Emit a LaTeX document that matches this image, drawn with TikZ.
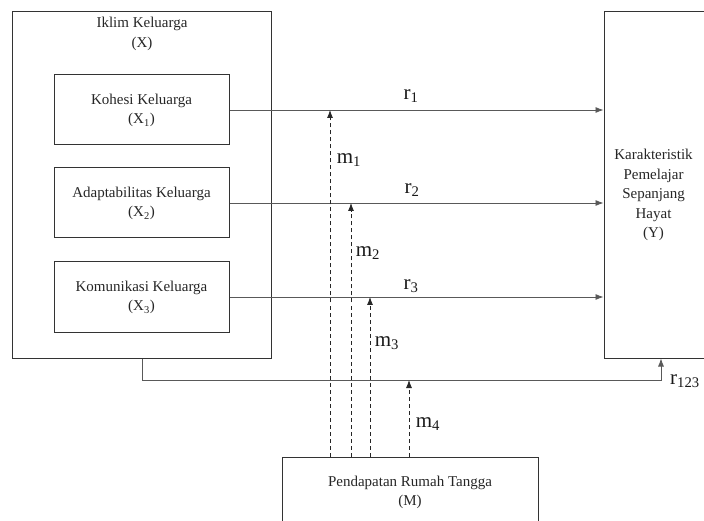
\documentclass[tikz,border=0pt]{standalone}
\usepackage{fontspec}
\setmainfont{Liberation Serif}
\usetikzlibrary{arrows.meta}
\begin{document}
\begin{tikzpicture}[x=1pt,y=-1pt,
  box/.style={draw=black!80, line width=1pt, inner sep=0pt},
  txt/.style={font=\fontsize{15}{19.5}\selectfont, align=center, text=black!85, inner sep=0pt},
  lbl/.style={font=\fontsize{21}{23}\selectfont, text=black!90, inner sep=0pt},
  conn/.style={draw=black!65, line width=0.8pt},
  arr/.style={conn, -{Latex[length=8pt,width=6pt]}},
  darr/.style={arr, draw=black!85, dash pattern=on 4pt off 3pt}]
\useasboundingbox (0,0) rectangle (704,521);
% boxes
\node[box, minimum width=259pt, minimum height=346.5pt] (X) at (141.5,184.75) {};
\node[txt] (Xt) at (142,34) {Iklim Keluarga\\(X)};
\node[box, minimum width=175pt, minimum height=70pt] (K1) at (141.5,110) {};
\node[txt] (K1t) at (141.5,110.5) {Kohesi Keluarga\\(X\textsubscript{1})};
\node[box, minimum width=175pt, minimum height=70pt] (K2) at (141.5,203) {};
\node[txt] (K2t) at (141.5,203.5) {Adaptabilitas Keluarga\\(X\textsubscript{2})};
\node[box, minimum width=175pt, minimum height=70pt] (K3) at (141.5,297) {};
\node[txt] (K3t) at (141.5,297.5) {Komunikasi Keluarga\\(X\textsubscript{3})};
\node[box, minimum width=108pt, minimum height=346.5pt] (Y) at (658,184.75) {};
\node[txt] (Yt) at (653.5,195) {Karakteristik\\Pemelajar\\Sepanjang\\Hayat\\(Y)};
\node[box, minimum width=256pt, minimum height=73pt] (M) at (410,493.5) {};
\node[txt] (Mt) at (410,492.5) {Pendapatan Rumah Tangga\\(M)};
% direct arrows
\draw[arr] (K1.east) -- (K1.east -| Y.west);
\draw[arr] (K2.east) -- (K2.east -| Y.west);
\draw[arr] (K3.east) -- (K3.east -| Y.west);
% simultaneous path
\coordinate (f1) at (142,380);
\coordinate (f2) at (661,380);
\draw[arr] (X.south -| f1) -- (f1) -- (f2) -- (f2 |- Y.south);
% moderator arrows
\coordinate (d1) at (330,0);
\coordinate (d2) at (351,0);
\coordinate (d3) at (370,0);
\coordinate (d4) at (409,0);
\draw[darr] (M.north -| d1) -- (d1 |- K1.east);
\draw[darr] (M.north -| d2) -- (d2 |- K2.east);
\draw[darr] (M.north -| d3) -- (d3 |- K3.east);
\draw[darr] (M.north -| d4) -- (d4 |- f1);
% labels
\node[lbl] (r1) at (411,96) {r\textsubscript{1}};
\node[lbl] (r2) at (412,190) {r\textsubscript{2}};
\node[lbl] (r3) at (411,286) {r\textsubscript{3}};
\node[lbl] (m1) at (349,160) {m\textsubscript{1}};
\node[lbl] (m2) at (368,253) {m\textsubscript{2}};
\node[lbl] (m3) at (387,343) {m\textsubscript{3}};
\node[lbl] (m4) at (428,424) {m\textsubscript{4}};
\node[lbl] (r123) at (685,381) {r\textsubscript{123}};
\end{tikzpicture}
\end{document}
